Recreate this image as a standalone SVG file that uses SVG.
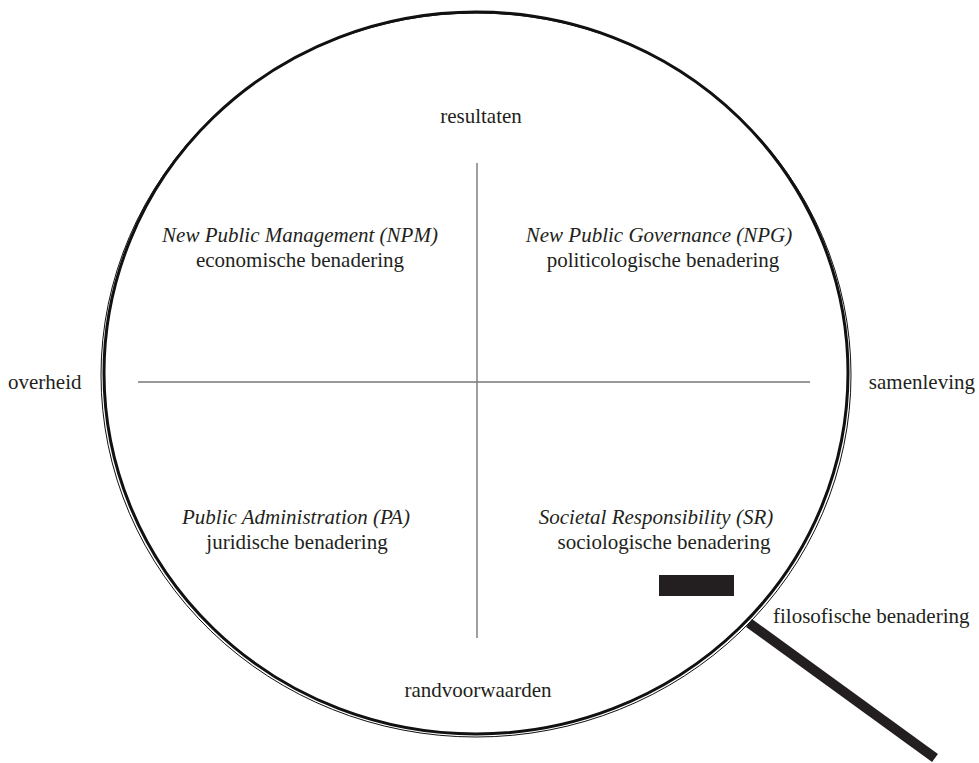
<svg xmlns="http://www.w3.org/2000/svg" width="979" height="763" viewBox="0 0 979 763">
<style>
text{font-family:"Liberation Serif","Times New Roman",serif;font-size:21px;fill:#231f20}
.i{font-style:italic}
.m{text-anchor:middle}
.axis{stroke:#777;stroke-width:1.4;fill:none}
</style>
<rect width="979" height="763" fill="#fff"/>
<g id="lens">
<ellipse cx="476" cy="373" rx="372" ry="361" fill="none" stroke="#111" stroke-width="3"/>
<ellipse cx="476" cy="375" rx="375" ry="362" fill="none" stroke="#111" stroke-width="1"/>
<line x1="749" y1="623" x2="935" y2="758" stroke="#231f20" stroke-width="10"/>
<rect x="659" y="575" width="75" height="21" fill="#231f20"/>
</g>
<g id="connectors">
<line class="axis" x1="477" y1="163" x2="477" y2="638"/>
<line class="axis" x1="138" y1="382" x2="810" y2="382"/>
</g>
<g id="axis-labels">
<text class="m" x="481" y="123">resultaten</text>
<text class="m" x="478" y="697">randvoorwaarden</text>
<text x="8" y="389">overheid</text>
<text x="975" y="389" text-anchor="end">samenleving</text>
<text x="773" y="623">filosofische benadering</text>
</g>
<g id="npm"><text class="m i" x="300" y="242">New Public Management (NPM)</text><text class="m" x="300" y="267">economische benadering</text></g>
<g id="npg"><text class="m i" x="659" y="242">New Public Governance (NPG)</text><text class="m" x="663" y="267">politicologische benadering</text></g>
<g id="pa"><text class="m i" x="296" y="524">Public Administration (PA)</text><text class="m" x="297" y="549">juridische benadering</text></g>
<g id="sr"><text class="m i" x="656" y="524">Societal Responsibility (SR)</text><text class="m" x="664" y="549">sociologische benadering</text></g>
</svg>
